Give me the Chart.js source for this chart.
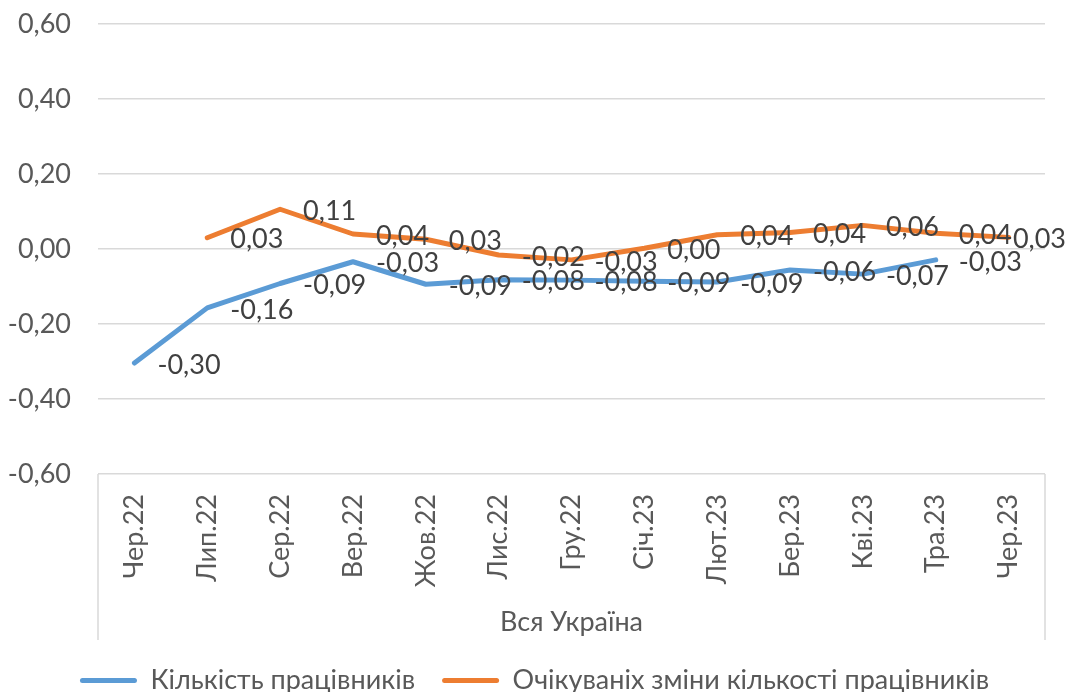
<!DOCTYPE html>
<html>
<head>
<meta charset="utf-8">
<script src="https://cdn.jsdelivr.net/npm/chart.js@4.4.1/dist/chart.umd.min.js"></script>
<style>
  html, body { margin: 0; padding: 0; background: #ffffff; }
  #wrap { width: 1069px; height: 692px; }
</style>
</head>
<body>
<div id="wrap"><canvas id="chart" width="1069" height="692"></canvas></div>
<script>
// ---- Data ----
const categories = ['Чер.22', 'Лип.22', 'Сер.22', 'Вер.22', 'Жов.22', 'Лис.22', 'Гру.22',
                    'Січ.23', 'Лют.23', 'Бер.23', 'Кві.23', 'Тра.23', 'Чер.23'];
const employees = [-0.304, -0.157, -0.092, -0.034, -0.094, -0.082, -0.083,
                   -0.086, -0.088, -0.056, -0.067, -0.029, null];
const expectedChange = [null, 0.030, 0.106, 0.040, 0.026, -0.016, -0.029,
                        0.002, 0.038, 0.044, 0.063, 0.042, 0.031];
const yTicks = [-0.6, -0.4, -0.2, 0, 0.2, 0.4, 0.6];
const seriesNames = ['Кількість працівників', 'Очікуваніх зміни кількості працівників'];
const axisTitle = 'Вся Україна';

const FONT = 'Lato';
const FS = 27;
const fmt = v => (Math.abs(v) < 1e-9 ? 0 : v).toFixed(2).replace('.', ',');

const dataLabels = {
  id: 'dataLabels',
  afterDatasetsDraw(chart) {
    const ctx = chart.ctx;
    ctx.save();
    ctx.font = FS + 'px ' + FONT;
    ctx.fillStyle = '#404040';
    ctx.textAlign = 'left';
    ctx.textBaseline = 'middle';
    chart.data.datasets.forEach((ds, i) => {
      const meta = chart.getDatasetMeta(i);
      meta.data.forEach((pt, j) => {
        const v = ds.data[j];
        if (v === null || v === undefined) return;
        const txt = fmt(v);
        const w = ctx.measureText(txt).width;
        const x = Math.min(pt.x + 23, chart.width - w - 3);
        ctx.fillText(txt, x, pt.y + 2);
      });
    });
    ctx.restore();
  }
};

const axisBox = {
  id: 'axisBox',
  afterDraw(chart) {
    const ctx = chart.ctx;
    const a = chart.chartArea;
    const xs = chart.scales.x;
    ctx.save();
    ctx.strokeStyle = '#d9d9d9';
    ctx.lineWidth = 1.5;
    ctx.beginPath();
    ctx.moveTo(a.left, a.bottom);
    ctx.lineTo(a.left, xs.bottom);
    ctx.moveTo(a.right, a.bottom);
    ctx.lineTo(a.right, xs.bottom);
    ctx.stroke();
    ctx.restore();
  }
};

new Chart(document.getElementById('chart'), {
  type: 'line',
  data: {
    labels: categories,
    datasets: [
      {
        label: seriesNames[0],
        data: employees,
        borderColor: '#5B9BD5',
        backgroundColor: '#5B9BD5',
        borderWidth: 5,
        pointRadius: 0,
        tension: 0,
        borderCapStyle: 'round',
        borderJoinStyle: 'round'
      },
      {
        label: seriesNames[1],
        data: expectedChange,
        borderColor: '#ED7D31',
        backgroundColor: '#ED7D31',
        borderWidth: 5,
        pointRadius: 0,
        tension: 0,
        borderCapStyle: 'round',
        borderJoinStyle: 'round'
      }
    ]
  },
  options: {
    responsive: false,
    animation: false,
    devicePixelRatio: 1,
    layout: { padding: { top: 24, right: 0, left: 0, bottom: -12 } },
    plugins: {
      tooltip: { enabled: false },
      legend: {
        position: 'bottom',
        labels: {
          boxWidth: 57,
          boxHeight: 5,
          padding: 27,
          color: '#595959',
          font: { family: FONT, size: FS },
          generateLabels: chart => Chart.defaults.plugins.legend.labels.generateLabels(chart)
            .map(l => Object.assign(l, { lineWidth: 0, borderRadius: 2.5 }))
        }
      }
    },
    scales: {
      x: {
        offset: true,
        grid: { display: false, drawTicks: false, offset: true },
        border: { display: false },
        ticks: {
          autoSkip: false,
          minRotation: 90,
          maxRotation: 90,
          padding: 20,
          color: '#595959',
          font: { family: FONT, size: FS }
        },
        title: {
          display: true,
          text: axisTitle,
          color: '#595959',
          font: { family: FONT, size: FS },
          padding: { top: 0, bottom: 2 }
        },
        afterFit: s => { s.height = 166; s.paddingLeft = 0; s.paddingRight = 24; }
      },
      y: {
        min: -0.6,
        max: 0.6,
        grid: { color: '#d9d9d9', lineWidth: 1.5, drawTicks: false },
        border: { display: false },
        afterBuildTicks: s => { s.ticks = yTicks.map(v => ({ value: v })); },
        ticks: {
          padding: 27,
          color: '#595959',
          font: { family: FONT, size: FS },
          callback: v => fmt(v)
        },
        afterFit: s => { s.width = 98; s.paddingTop = 0; s.paddingBottom = 0; }
      }
    }
  },
  plugins: [dataLabels, axisBox]
});
</script>
</body>
</html>
